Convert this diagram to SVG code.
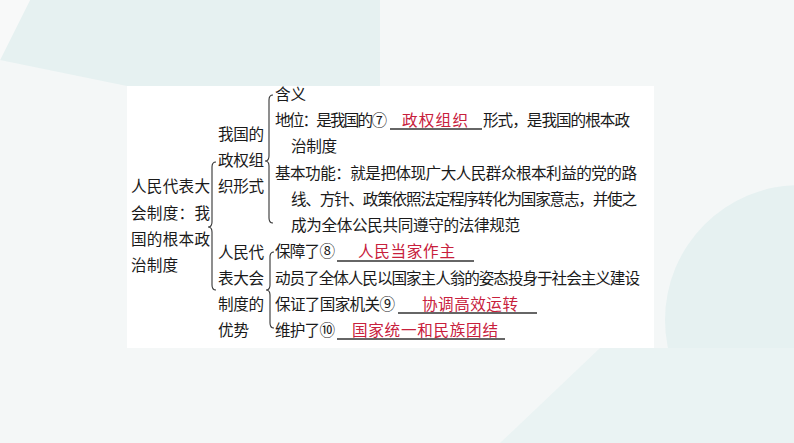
<svg xmlns="http://www.w3.org/2000/svg" width="794" height="443" viewBox="0 0 794 443">
<style>
.t{font-family:"Noto Sans CJK SC","Noto Sans",sans-serif;font-size:15.6px;fill:#1a1a1a}
.r{font-family:"Noto Sans CJK SC","Noto Sans",sans-serif;font-size:15.6px;fill:#c8203c}
.b{fill:none;stroke:#333;stroke-width:1.1}
.u{stroke:#333;stroke-width:1.3}
</style>
<rect width="794" height="443" fill="#f4f7f7"/>
<polygon points="30,0 380,0 380,86 127,86 0,60" fill="#e6f1f1"/>
<polygon points="0,0 30,0 0,60" fill="#f8f9f9"/>
<circle cx="800" cy="320" r="135" fill="#e6f1f1"/>
<polygon points="500,443 600,348 794,348 794,443" fill="#eaf3f3"/>
<rect x="127" y="86" width="527" height="262" fill="#ffffff"/>

<g id="connectors">
<path class="b" d="M216,162 Q212,162 212,167 L212,222 Q212,227 208,227 Q212,227 212,232 L212,285 Q212,290 216,290"/>
<path class="b" d="M273,95 Q269,95 269,100 L269,156 Q269,161 265,161 Q269,161 269,166 L269,218 Q269,223 273,223"/>
<path class="b" d="M274,252 Q270,252 270,257 L270,285 Q270,290 266,290 Q270,290 270,295 L270,323 Q270,328 274,328"/>
</g>

<g id="root">
<text class="t" x="131" y="192" textLength="79">人民代表大</text>
<text class="t" x="131" y="219" textLength="79">会制度：我</text>
<text class="t" x="131" y="245" textLength="79">国的根本政</text>
<text class="t" x="131" y="271" textLength="47">治制度</text>
</g>

<g id="node-form">
<text class="t" x="218" y="140" textLength="46">我国的</text>
<text class="t" x="218" y="166" textLength="46">政权组</text>
<text class="t" x="218" y="192" textLength="46">织形式</text>
</g>

<g id="node-adv">
<text class="t" x="218" y="258" textLength="46">人民代</text>
<text class="t" x="218" y="284" textLength="46">表大会</text>
<text class="t" x="218" y="310" textLength="46">制度的</text>
<text class="t" x="218" y="336" textLength="31">优势</text>
</g>

<g id="node-meaning">
<text class="t" x="275" y="100" textLength="31">含义</text>
</g>

<g id="node-status">
<text class="t" x="275" y="126" textLength="112">地位：是我国的⑦</text>
<line class="u" x1="390" y1="129" x2="482" y2="129"/>
<text class="r" x="402" y="126" textLength="66">政权组织</text>
<text class="t" x="483" y="126" textLength="147">形式，是我国的根本政</text>
<text class="t" x="291" y="152" textLength="46">治制度</text>
</g>

<g id="node-function">
<text class="t" x="275" y="179" textLength="362">基本功能：就是把体现广大人民群众根本利益的党的路</text>
<text class="t" x="291" y="205" textLength="346">线、方针、政策依照法定程序转化为国家意志，并使之</text>
<text class="t" x="291" y="231" textLength="229">成为全体公民共同遵守的法律规范</text>
</g>

<g id="node-adv1">
<text class="t" x="275" y="257" textLength="60">保障了⑧</text>
<line class="u" x1="337" y1="261" x2="474" y2="261"/>
<text class="r" x="358" y="257" textLength="97">人民当家作主</text>
</g>

<g id="node-adv2">
<text class="t" x="275" y="284" textLength="365">动员了全体人民以国家主人翁的姿态投身于社会主义建设</text>
</g>

<g id="node-adv3">
<text class="t" x="275" y="310" textLength="120">保证了国家机关⑨</text>
<line class="u" x1="398" y1="313" x2="537" y2="313"/>
<text class="r" x="422" y="310" textLength="96">协调高效运转</text>
</g>

<g id="node-adv4">
<text class="t" x="275" y="336" textLength="60">维护了⑩</text>
<line class="u" x1="337" y1="339" x2="505" y2="339"/>
<text class="r" x="352" y="336" textLength="146">国家统一和民族团结</text>
</g>
</svg>
